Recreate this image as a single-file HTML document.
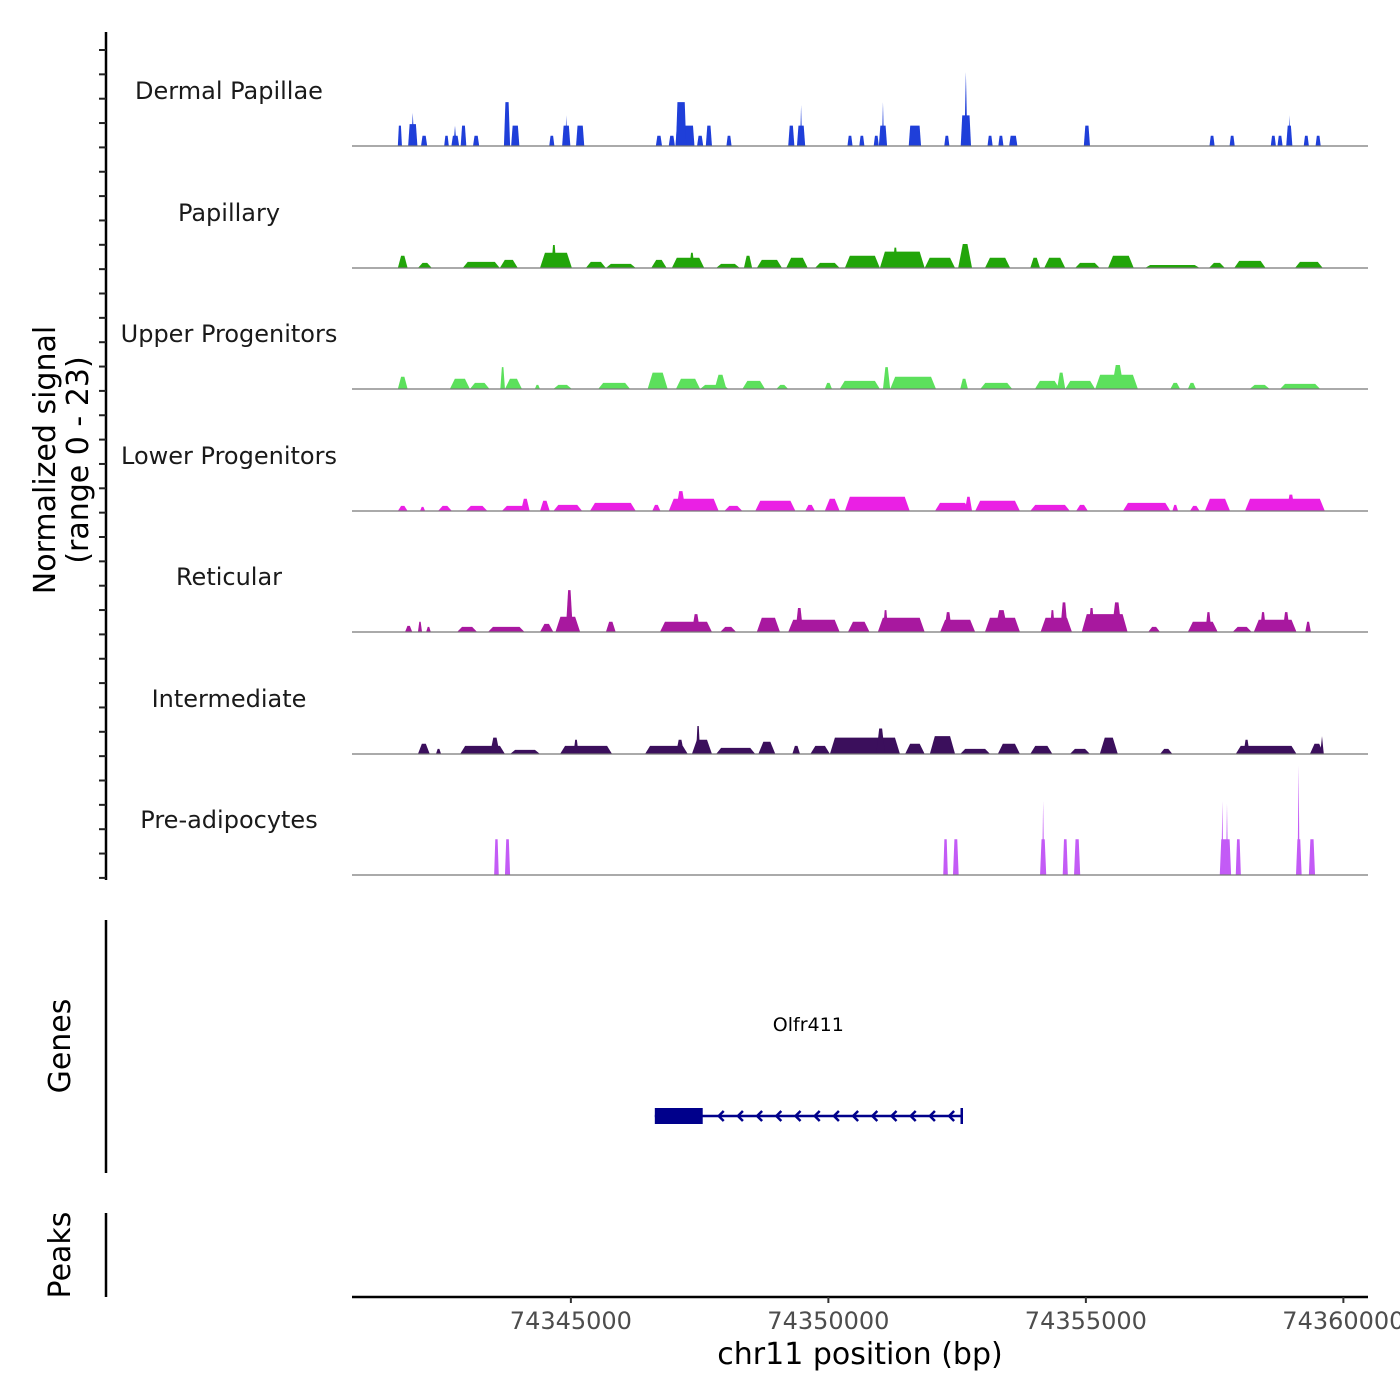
<!DOCTYPE html>
<html><head><meta charset="utf-8"><style>
html,body{margin:0;padding:0;background:#fff;}
svg{display:block;font-family:"DejaVu Sans","Liberation Sans",sans-serif;}
</style></head><body>
<svg id="chart" width="1400" height="1400" viewBox="0 0 1400 1400" xmlns="http://www.w3.org/2000/svg">
<g id="axes"></g><g id="tracks"></g><g id="gene"></g>
</svg>
<script>
// ---- data (positions in kb, heights in normalized signal units) ----
const xTicks = [74345, 74350, 74355, 74360];
const xTickLabels = ["74345000", "74350000", "74355000", "74360000"];
const trackNames = ["Dermal Papillae","Papillary","Upper Progenitors","Lower Progenitors","Reticular","Intermediate","Pre-adipocytes"];
const trackColors = ["#1f3fd9","#22a50a","#5ce05c","#ea20e4","#a8189f","#3b0f5c","#c35bf6"];
const signalMax = 23;
const dermal = [[74341.64,74341.72,4],[74341.84,74342.02,4.3],[74341.90,74341.96,6.5],[74342.09,74342.21,2],[74342.54,74342.63,2],[74342.68,74342.83,2],[74342.72,74342.78,4],[74342.86,74342.97,4],[74343.10,74343.22,2],[74343.70,74343.82,8.6],[74343.84,74344.00,4],[74344.58,74344.68,2],[74344.83,74344.99,4],[74344.89,74344.93,6],[74345.10,74345.26,4],[74346.65,74346.77,2],[74346.90,74347.02,2],[74347.03,74347.40,4],[74347.04,74347.24,8.6],[74347.45,74347.57,2],[74347.62,74347.74,4],[74348.02,74348.12,2],[74349.22,74349.34,4],[74349.39,74349.55,4],[74349.45,74349.49,8],[74350.37,74350.47,2],[74350.60,74350.70,2],[74350.88,74350.98,2],[74350.98,74351.14,4],[74351.04,74351.08,8.6],[74351.56,74351.80,4],[74352.25,74352.35,2],[74352.57,74352.77,6],[74352.64,74352.70,14.5],[74353.09,74353.19,2],[74353.30,74353.40,2],[74353.51,74353.67,2],[74354.96,74355.08,4],[74357.40,74357.50,2],[74357.79,74357.89,2],[74358.59,74358.69,2],[74358.72,74358.82,2],[74358.89,74359.01,4],[74358.93,74358.97,6],[74359.23,74359.33,2],[74359.46,74359.56,2]];
const papillary = [[74341.64,74341.83,2.4],[74342.03,74342.30,1],[74342.90,74343.62,1.2],[74343.62,74343.97,1.6],[74344.40,74345.02,3],[74344.62,74344.72,4.5],[74345.29,74345.68,1.2],[74345.68,74346.26,0.8],[74346.56,74346.86,1.6],[74346.96,74347.59,2],[74347.30,74347.40,3],[74347.82,74348.28,0.8],[74348.36,74348.52,2.4],[74348.61,74349.10,1.6],[74349.18,74349.60,2],[74349.74,74350.22,1],[74350.32,74351.00,2.4],[74351.00,74351.87,3.2],[74351.25,74351.35,4],[74351.87,74352.46,2],[74352.52,74352.79,4.7],[74353.04,74353.53,2],[74353.92,74354.11,2],[74354.19,74354.60,2],[74354.79,74355.27,1],[74355.43,74355.93,2.4],[74356.15,74357.21,0.6],[74357.39,74357.70,1],[74357.88,74358.49,1.4],[74359.06,74359.60,1.2]];
const upperProg = [[74341.64,74341.83,2.4],[74342.65,74343.04,2],[74343.04,74343.42,1.2],[74343.63,74343.72,4.3],[74343.72,74344.05,2],[74344.30,74344.40,0.8],[74344.66,74345.02,0.8],[74345.53,74346.15,1.2],[74346.49,74346.88,3.2],[74347.04,74347.51,2],[74347.51,74348.06,0.8],[74347.79,74348.02,2.8],[74348.33,74348.77,1.6],[74348.99,74349.22,0.8],[74349.93,74350.07,1.2],[74350.22,74351.00,1.6],[74351.06,74351.20,4.3],[74351.20,74352.09,2.4],[74352.56,74352.71,2],[74352.95,74353.57,1.2],[74354.01,74354.49,1.6],[74354.44,74354.60,3.2],[74354.60,74355.18,1.6],[74355.18,74356.01,2.8],[74355.50,74355.74,4.7],[74356.64,74356.83,1.2],[74356.98,74357.14,1.2],[74358.18,74358.57,0.8],[74358.77,74359.55,1]];
const lowerProg = [[74341.64,74341.83,1],[74342.07,74342.17,0.8],[74342.42,74342.69,1],[74342.96,74343.38,1],[74343.66,74344.20,1],[74344.03,74344.20,2.4],[74344.40,74344.59,2],[74344.66,74345.22,1.2],[74345.37,74346.26,1.6],[74346.58,74346.74,1.2],[74346.90,74347.87,2.4],[74347.04,74347.23,3.9],[74347.98,74348.33,1],[74348.58,74349.36,2],[74349.55,74349.74,1.2],[74349.93,74350.22,2.4],[74350.32,74351.58,2.8],[74352.07,74352.75,1.6],[74352.65,74352.79,2.8],[74352.85,74353.72,2],[74353.92,74354.69,1.2],[74354.81,74355.04,1.2],[74355.72,74356.64,1.6],[74356.68,74356.79,1.2],[74357.02,74357.21,1],[74357.31,74357.80,2.4],[74358.09,74359.64,2.4],[74358.90,74359.06,3.2]];
const reticular = [[74341.78,74341.92,1.2],[74342.03,74342.11,2],[74342.19,74342.28,1],[74342.79,74343.18,1],[74343.39,74344.10,1],[74344.40,74344.66,1.6],[74344.70,74345.18,3],[74344.90,74345.04,8.2],[74345.68,74345.87,2],[74346.73,74347.74,2],[74347.35,74347.51,3.5],[74347.90,74348.21,1],[74348.61,74349.06,2.8],[74349.22,74350.22,2.4],[74349.36,74349.51,4.7],[74350.38,74350.80,2],[74350.96,74351.87,2.8],[74351.06,74351.16,4.3],[74352.17,74352.85,2.4],[74352.25,74352.40,3.9],[74353.04,74353.72,2.8],[74353.23,74353.49,4.3],[74354.12,74354.73,2.8],[74354.30,74354.40,4.3],[74354.50,74354.65,5.8],[74354.92,74355.81,3.5],[74355.05,74355.17,4.7],[74355.50,74355.70,5.8],[74356.21,74356.44,1],[74356.98,74357.56,2],[74357.32,74357.44,3.9],[74357.85,74358.22,1],[74358.26,74359.09,2.4],[74358.38,74358.50,3.9],[74358.82,74358.96,3.9],[74359.26,74359.37,2]];
const intermediate = [[74342.03,74342.26,2],[74342.38,74342.48,1],[74342.85,74343.72,1.6],[74343.43,74343.62,3.2],[74343.82,74344.40,0.8],[74344.79,74345.80,1.6],[74345.05,74345.15,2.8],[74346.44,74347.27,1.6],[74347.04,74347.20,2.8],[74347.35,74347.74,2.8],[74347.43,74347.51,5.5],[74347.82,74348.58,1.2],[74348.64,74348.97,2.4],[74349.30,74349.45,1.6],[74349.65,74350.03,1.6],[74350.03,74351.39,3.2],[74350.93,74351.10,5],[74351.49,74351.87,2],[74351.97,74352.46,3.5],[74352.56,74353.14,1],[74353.29,74353.72,2],[74353.92,74354.35,1.6],[74354.69,74355.08,1],[74355.27,74355.62,3.2],[74356.44,74356.68,1],[74357.91,74359.09,1.6],[74358.06,74358.18,2.8],[74359.35,74359.62,2],[74359.55,74359.62,3.5]];
const preAdipo = [[74343.51,74343.60,7],[74343.72,74343.82,7],[74352.23,74352.32,7],[74352.42,74352.53,7],[74354.11,74354.23,7],[74354.15,74354.19,14.5],[74354.55,74354.65,7],[74354.77,74354.89,7],[74357.60,74357.82,7],[74357.63,74357.67,14.5],[74357.72,74357.76,14],[74357.91,74358.01,7],[74359.08,74359.19,7],[74359.11,74359.15,21.5],[74359.33,74359.45,7]];
const trackData = [dermal,papillary,upperProg,lowerProg,reticular,intermediate,preAdipo];
const geneName = "Olfr411";
const geneStart = 74346.63, geneCdsEnd = 74347.56, geneEnd = 74352.59;

// ---- scales ----
const NS = "http://www.w3.org/2000/svg";
const X0 = 352, X1 = 1368, kbStart = 74340.75, pxPerKb = 51.5;
function xs(kb){ return X0 + (kb - kbStart) * pxPerKb; }
const baselines = [146,268,389,511,632,754,875];
const unitPx = 5.1;
function ys(v, base){ return base - v * unitPx; }
function mk(tag, attrs, parent){ const e=document.createElementNS(NS,tag); for(const k in attrs) e.setAttribute(k,attrs[k]); parent.appendChild(e); return e; }

const axes = document.getElementById('axes');
const tracks = document.getElementById('tracks');
const geneG = document.getElementById('gene');

let ax = mk('line',{x1:106,y1:32,x2:106,y2:880,stroke:'#000','stroke-width':2.5},axes);


for(let y=50;y<=880;y+=24.35){
  const t = mk('line',{x1:99,y1:y,x2:106,y2:y,stroke:'#222','stroke-width':2},axes);
  
  
}
let yt = mk('text',{x:0,y:0,'font-size':30,'text-anchor':'middle',fill:'#000',transform:'translate(55,460) rotate(-90)'},axes);


mk('tspan',{x:0,dy:0},yt).textContent='Normalized signal';
mk('tspan',{x:0,dy:33},yt).textContent='(range 0 - '+signalMax+')';

trackData.forEach((arr, i) => {
  const base = baselines[i];
  const g = mk('g',{},tracks);
  
  
  const lbl = mk('text',{x:229,y:base-47,'font-size':24,'text-anchor':'middle',fill:'#1a1a1a'},g);
  
  
  lbl.textContent = trackNames[i];
  arr.forEach(p => {
    const a = xs(p[0]), b = xs(p[1]), top = ys(p[2], base);
    const w = b - a;
    const s = w < 4 ? w/2 : (i===0 || i===6 ? Math.min(1.5, w/4) : Math.min(5, w/3));
    const poly = mk('polygon',{points:`${a},${base} ${a+s},${top} ${b-s},${top} ${b},${base}`,fill:trackColors[i]},g);
    
    
  });
  const bl = mk('line',{x1:X0,y1:base,x2:X1,y2:base,stroke:'#777','stroke-width':1.2},g);
  
  
});

let gl = mk('line',{x1:106,y1:920,x2:106,y2:1173,stroke:'#000','stroke-width':2.5},geneG);


let gt = mk('text',{x:0,y:0,'font-size':30,'text-anchor':'middle',fill:'#000',transform:'translate(70,1046) rotate(-90)'},geneG);


gt.textContent='Genes';
const gy = 1116;
let gline = mk('line',{x1:xs(geneStart),y1:gy,x2:xs(geneEnd),y2:gy,stroke:'#00008b','stroke-width':2.5},geneG);


let gbox = mk('rect',{x:xs(geneStart),y:gy-8,width:xs(geneCdsEnd)-xs(geneStart),height:16,fill:'#00008b'},geneG);


let gend = mk('line',{x1:xs(geneEnd),y1:gy-8,x2:xs(geneEnd),y2:gy+8,stroke:'#00008b','stroke-width':2.5},geneG);


for(let x=xs(geneCdsEnd)+16; x<xs(geneEnd)-2; x+=19.2){
  const ch = mk('polyline',{points:`${x+5},${gy-5} ${x},${gy} ${x+5},${gy+5}`,fill:'none',stroke:'#00008b','stroke-width':2.5},geneG);
  
  
}
let gname = mk('text',{x:(xs(geneStart)+xs(geneEnd))/2,y:1031,'font-size':19,'text-anchor':'middle',fill:'#000'},geneG);


gname.textContent = geneName;

let pl = mk('line',{x1:106,y1:1213,x2:106,y2:1297,stroke:'#000','stroke-width':2.5},axes);


let pt = mk('text',{x:0,y:0,'font-size':30,'text-anchor':'middle',fill:'#000',transform:'translate(70,1255) rotate(-90)'},axes);


pt.textContent='Peaks';

let xl = mk('line',{x1:X0,y1:1297,x2:X1,y2:1297,stroke:'#000','stroke-width':2.5},axes);


xTicks.forEach((t,i) => {
  const tk = mk('line',{x1:xs(t),y1:1297,x2:xs(t),y2:1303,stroke:'#333','stroke-width':2},axes);
  
  
  const tl = mk('text',{x:xs(t),y:1329,'font-size':24,'text-anchor':'middle',fill:'#4d4d4d'},axes);
  
  
  tl.textContent = xTickLabels[i];
});
let xt = mk('text',{x:860,y:1364,'font-size':30,'text-anchor':'middle',fill:'#000'},axes);


xt.textContent='chr11 position (bp)';
</script>
</body></html>
